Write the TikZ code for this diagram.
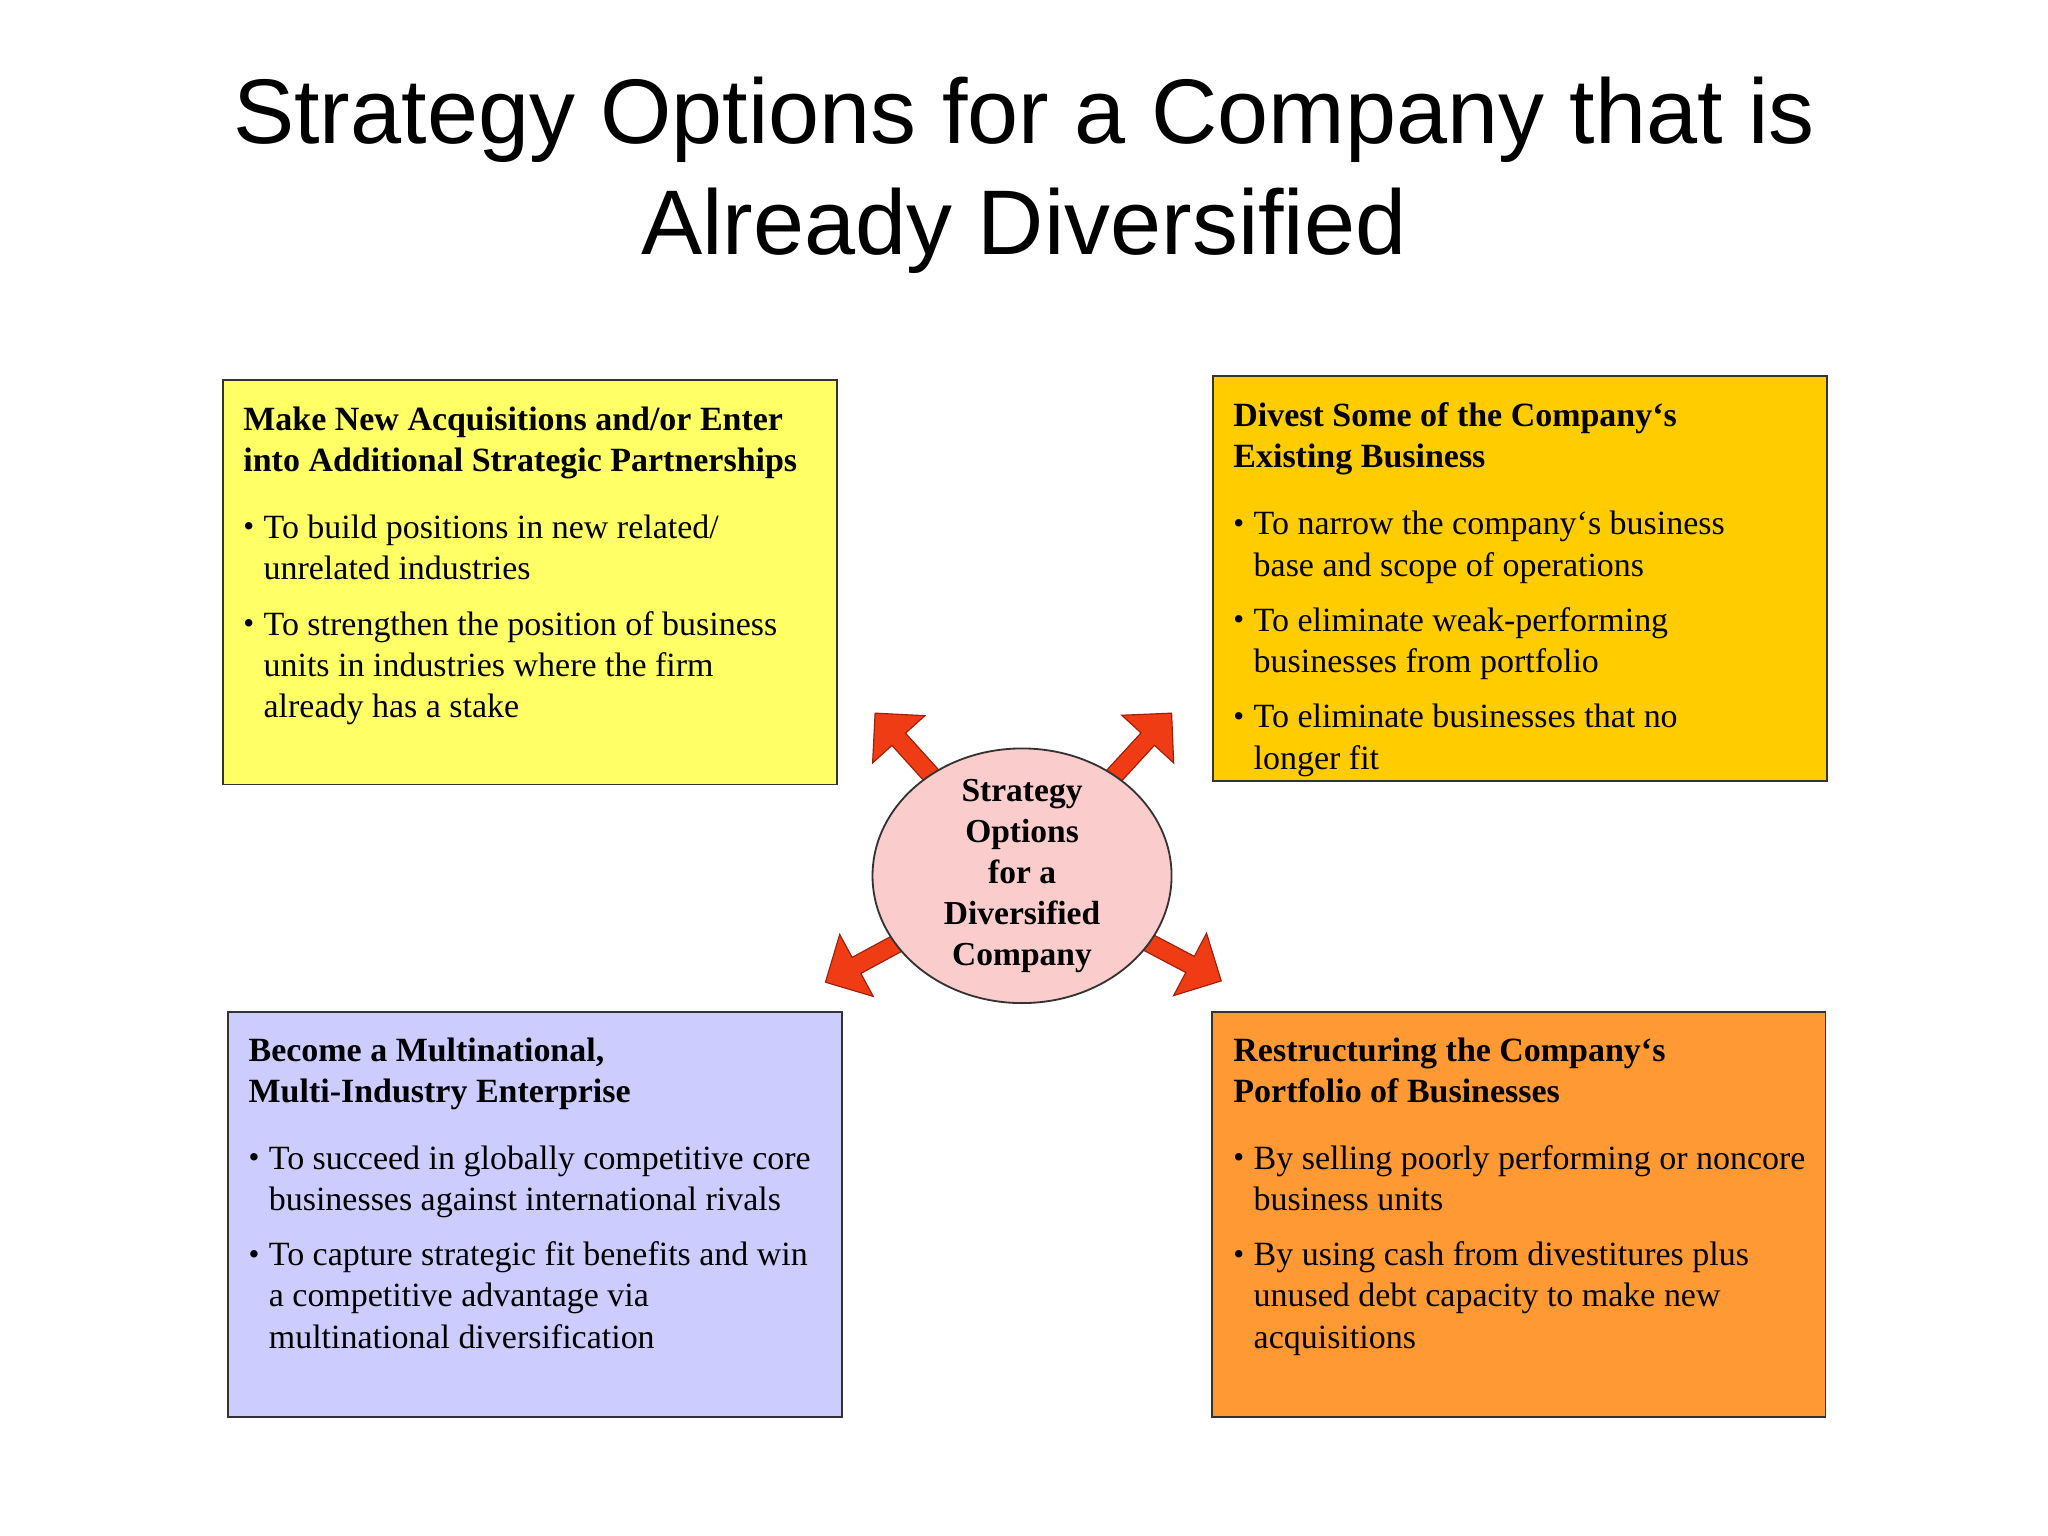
\documentclass[tikz,border=0pt]{standalone}
\usepackage{fontspec}
\setmainfont{Liberation Serif}
\newfontfamily\titlefont{Liberation Sans}
\usetikzlibrary{calc,shapes.geometric}
\definecolor{acqyellow}{RGB}{255,255,102}
\definecolor{divgold}{RGB}{255,204,0}
\definecolor{multililac}{RGB}{204,204,255}
\definecolor{restorange}{RGB}{255,153,51}
\definecolor{hubpink}{RGB}{250,204,204}
\definecolor{arrowred}{RGB}{240,60,20}
\definecolor{arrowedge}{RGB}{160,30,10}
\newcommand\bul{\makebox[0.31cm][l]{\raisebox{0.1ex}{\fontsize{13.5}{13.5}\selectfont\textbullet}}}
\newcommand\ind{\hspace*{0.31cm}}
\newcommand\spokearrow[2]{%
  \coordinate (base) at ($(#2)!0.54cm!(#1)$);
  \draw[outarrow] ($(#1)!0.14cm!90:(#2)$) -- ($(base)!0.14cm!90:(#2)$)
    -- ($(base)!0.54cm!90:(#2)$) -- (#2) -- ($(base)!0.54cm!-90:(#2)$)
    -- ($(base)!0.14cm!-90:(#2)$) -- ($(#1)!0.14cm!-90:(#2)$) -- cycle;}
\begin{document}
\begin{tikzpicture}[x=0.02cm,y=-0.02cm,
    box/.style={draw=black!80,line width=0.8pt,anchor=north west,
    minimum width=9.4cm,minimum height=6.2cm,inner sep=0pt},
    boxtext/.style={anchor=north west,align=left,inner sep=0pt,
    font=\fontsize{14.8}{17.9}\selectfont},
    hub/.style={ellipse,draw=black!80,fill=hubpink,line width=0.8pt,
    minimum width=4.58cm,minimum height=3.9cm,inner sep=0pt},
    hubtext/.style={align=center,inner sep=0pt,
    font=\bfseries\fontsize{14.6}{17.9}\selectfont},
    outarrow/.style={fill=arrowred,draw=arrowedge,line width=0.5pt},
    title/.style={align=center,font=\titlefont\fontsize{40}{48.4}\selectfont}]
    \fill[white] (0,0) rectangle (1568,1176);
    \useasboundingbox (0,0) rectangle (1568,1176);
    \node[title] (title) at (784,134)
    {Strategy Options for a Company that is\\Already Diversified};
    \node[box,fill=acqyellow] (acq) at (170,290) {};
    \node[box,fill=divgold] (div) at (928,287) {};
    \node[box,fill=multililac] (multi) at (174,774) {};
    \node[box,fill=restorange] (rest) at (927,774) {};
    \node[boxtext] (acq-text) at (186,311)
    {\textbf{Make New Acquisitions and/or Enter}\\
    \textbf{into Additional Strategic Partnerships}\\[0.4cm]
    \bul To build positions in new related/\\
    \ind unrelated industries\\[0.22cm]
    \bul To strengthen the position of business\\
    \ind units in industries where the firm\\
    \ind already has a stake};
    \node[boxtext] (div-text) at (944,308)
    {\textbf{Divest Some of the Company‘s}\\
    \textbf{Existing Business}\\[0.4cm]
    \bul To narrow the company‘s business\\
    \ind base and scope of operations\\[0.22cm]
    \bul To eliminate weak-performing\\
    \ind businesses from portfolio\\[0.22cm]
    \bul To eliminate businesses that no\\
    \ind longer fit};
    \node[boxtext] (multi-text) at (190,794)
    {\textbf{Become a Multinational,}\\
    \textbf{Multi-Industry Enterprise}\\[0.4cm]
    \bul To succeed in globally competitive core\\
    \ind businesses against international rivals\\[0.22cm]
    \bul To capture strategic fit benefits and win\\
    \ind a competitive advantage via\\
    \ind multinational diversification};
    \node[boxtext] (rest-text) at (944,794)
    {\textbf{Restructuring the Company‘s}\\
    \textbf{Portfolio of Businesses}\\[0.4cm]
    \bul By selling poorly performing or noncore\\
    \ind business units\\[0.22cm]
    \bul By using cash from divestitures plus\\
    \ind unused debt capacity to make new\\
    \ind acquisitions};
    \coordinate (hubc) at (782.5,670.5);
    \coordinate (tip-nw) at (670,546);
    \coordinate (tip-ne) at (897,546);
    \coordinate (tip-sw) at (632,752);
    \coordinate (tip-se) at (935,751);
    \spokearrow{hubc}{tip-nw}
    \spokearrow{hubc}{tip-ne}
    \spokearrow{hubc}{tip-sw}
    \spokearrow{hubc}{tip-se}
    \node[hub] (c) at (hubc) {};
    \node[hubtext] (c-text) at (c) {Strategy\\Options\\for a\\Diversified\\Company};
\end{tikzpicture}
\end{document}
